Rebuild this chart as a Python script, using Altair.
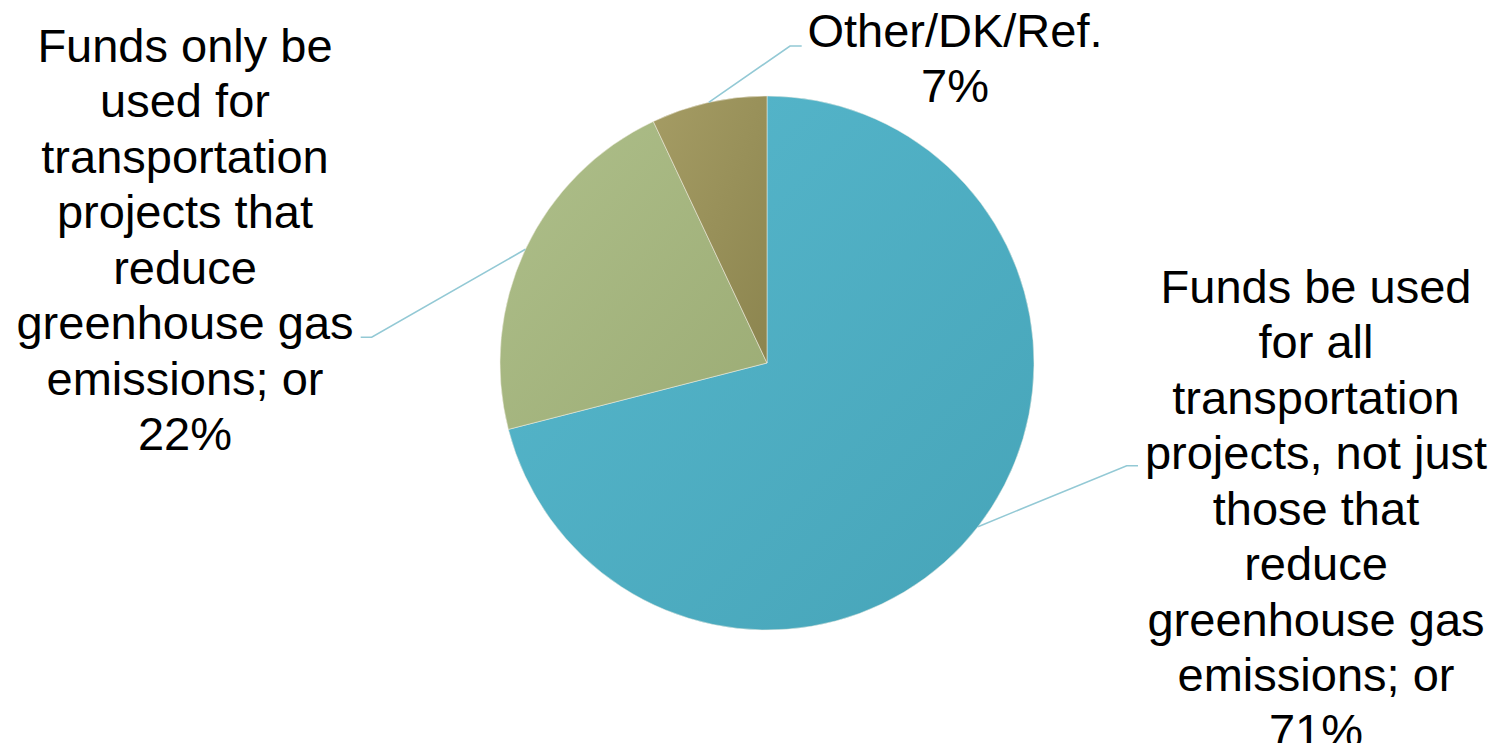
import math
import altair as alt
import pandas as pd

# ---- data ----
categories = [
    "Funds be used for all transportation projects, not just those that reduce greenhouse gas emissions; or",
    "Funds only be used for transportation projects that reduce greenhouse gas emissions; or",
    "Other/DK/Ref.",
]
values = [71, 22, 7]
label_lines = [
    ["Funds be used", "for all", "transportation", "projects, not just", "those that",
     "reduce", "greenhouse gas", "emissions; or"],
    ["Funds only be", "used for", "transportation", "projects that", "reduce",
     "greenhouse gas", "emissions; or"],
    ["Other/DK/Ref."],
]

# ---- layout / style (pixel frame of the page) ----
W, H = 1485, 735
CX, CY, R = 767, 363, 267
label_anchor = [(1316, 302.5), (185, 61.5), (955, 46.5)]     # text centre x, first baseline
elbow = [(1126.7, 465.7), (371.7, 337.3), (790, 46)]
line_end = [(1138, 465.7), (360.7, 337.3), (801.7, 46)]
gradients = [
    ("#57B8CD", "#46A4B8"),
    ("#AEBF8A", "#9CAC75"),
    ("#A59C64", "#8C854F"),
]
FONT = "Liberation Sans"
FS = 47
LH = 55.5

# ---- derived tables ----
total = sum(values)
starts, ends = [], []
acc = 0
for v in values:
    starts.append(acc / total * 100)
    acc += v
    ends.append(acc / total * 100)

pie_df = pd.DataFrame({"cat": categories, "value": values, "start": starts, "end": ends,
                       "cx": [CX] * 3, "cy": [CY] * 3})

rows = []
for i, cat in enumerate(categories):
    mid = (starts[i] + ends[i]) / 2 / 100 * 2 * math.pi
    sx, sy = CX + R * math.sin(mid), CY - R * math.cos(mid)
    for k, (px, py) in enumerate([(sx, sy), elbow[i], line_end[i]]):
        rows.append({"cat": cat, "k": k, "x": px, "y": py})
lines_df = pd.DataFrame(rows)

text_df = pd.DataFrame({
    "cat": categories,
    "text": ["\n".join(l + [f"{v}%"]) for l, v in zip(label_lines, values)],
    "x": [a[0] for a in label_anchor],
    "y": [a[1] for a in label_anchor],
})

xs = alt.Scale(domain=[8, 8 + W], range=[0, W], nice=False, zero=False)
ys = alt.Scale(domain=[8, 8 + H], range=[0, H], nice=False, zero=False)
th = alt.Scale(domain=[0, 100], range=[0, 2 * math.pi])

layers = []
for i, cat in enumerate(categories):
    g = alt.Gradient(
        gradient="linear", x1=0, y1=0, x2=1, y2=1,
        stops=[alt.GradientStop(color=gradients[i][0], offset=0),
               alt.GradientStop(color=gradients[i][1], offset=1)],
    )
    arc = (
        alt.Chart(pie_df)
        .transform_filter(alt.datum.cat == cat)
        .mark_arc(radius=R, fill=g, stroke="#f4f1e6", strokeWidth=0.5)
        .encode(
            theta=alt.Theta("start:Q", scale=th),
            theta2=alt.Theta2("end:Q"),
            x=alt.X("cx:Q", scale=xs, axis=None),
            y=alt.Y("cy:Q", scale=ys, axis=None),
        )
    )
    layers.append(arc)

leaders = (
    alt.Chart(lines_df)
    .mark_line(color="#93C9D5", strokeWidth=1.6)
    .encode(
        x=alt.X("x:Q", scale=xs, axis=None),
        y=alt.Y("y:Q", scale=ys, axis=None),
        detail="cat:N",
        order="k:Q",
    )
)

labels = (
    alt.Chart(text_df)
    .mark_text(font=FONT, fontSize=FS, lineBreak="\n", lineHeight=LH,
               align="center", baseline="alphabetic", color="#000000")
    .encode(
        x=alt.X("x:Q", scale=xs, axis=None),
        y=alt.Y("y:Q", scale=ys, axis=None),
        text="text:N",
    )
)

chart = (
    alt.layer(*layers, leaders, labels)
    .properties(width=W, height=H, padding=0,
                autosize=alt.AutoSizeParams(type="none"), background="white")
    .configure_view(stroke=None)
)

chart.save("out.html", embed_options={"renderer": "svg", "actions": False})
